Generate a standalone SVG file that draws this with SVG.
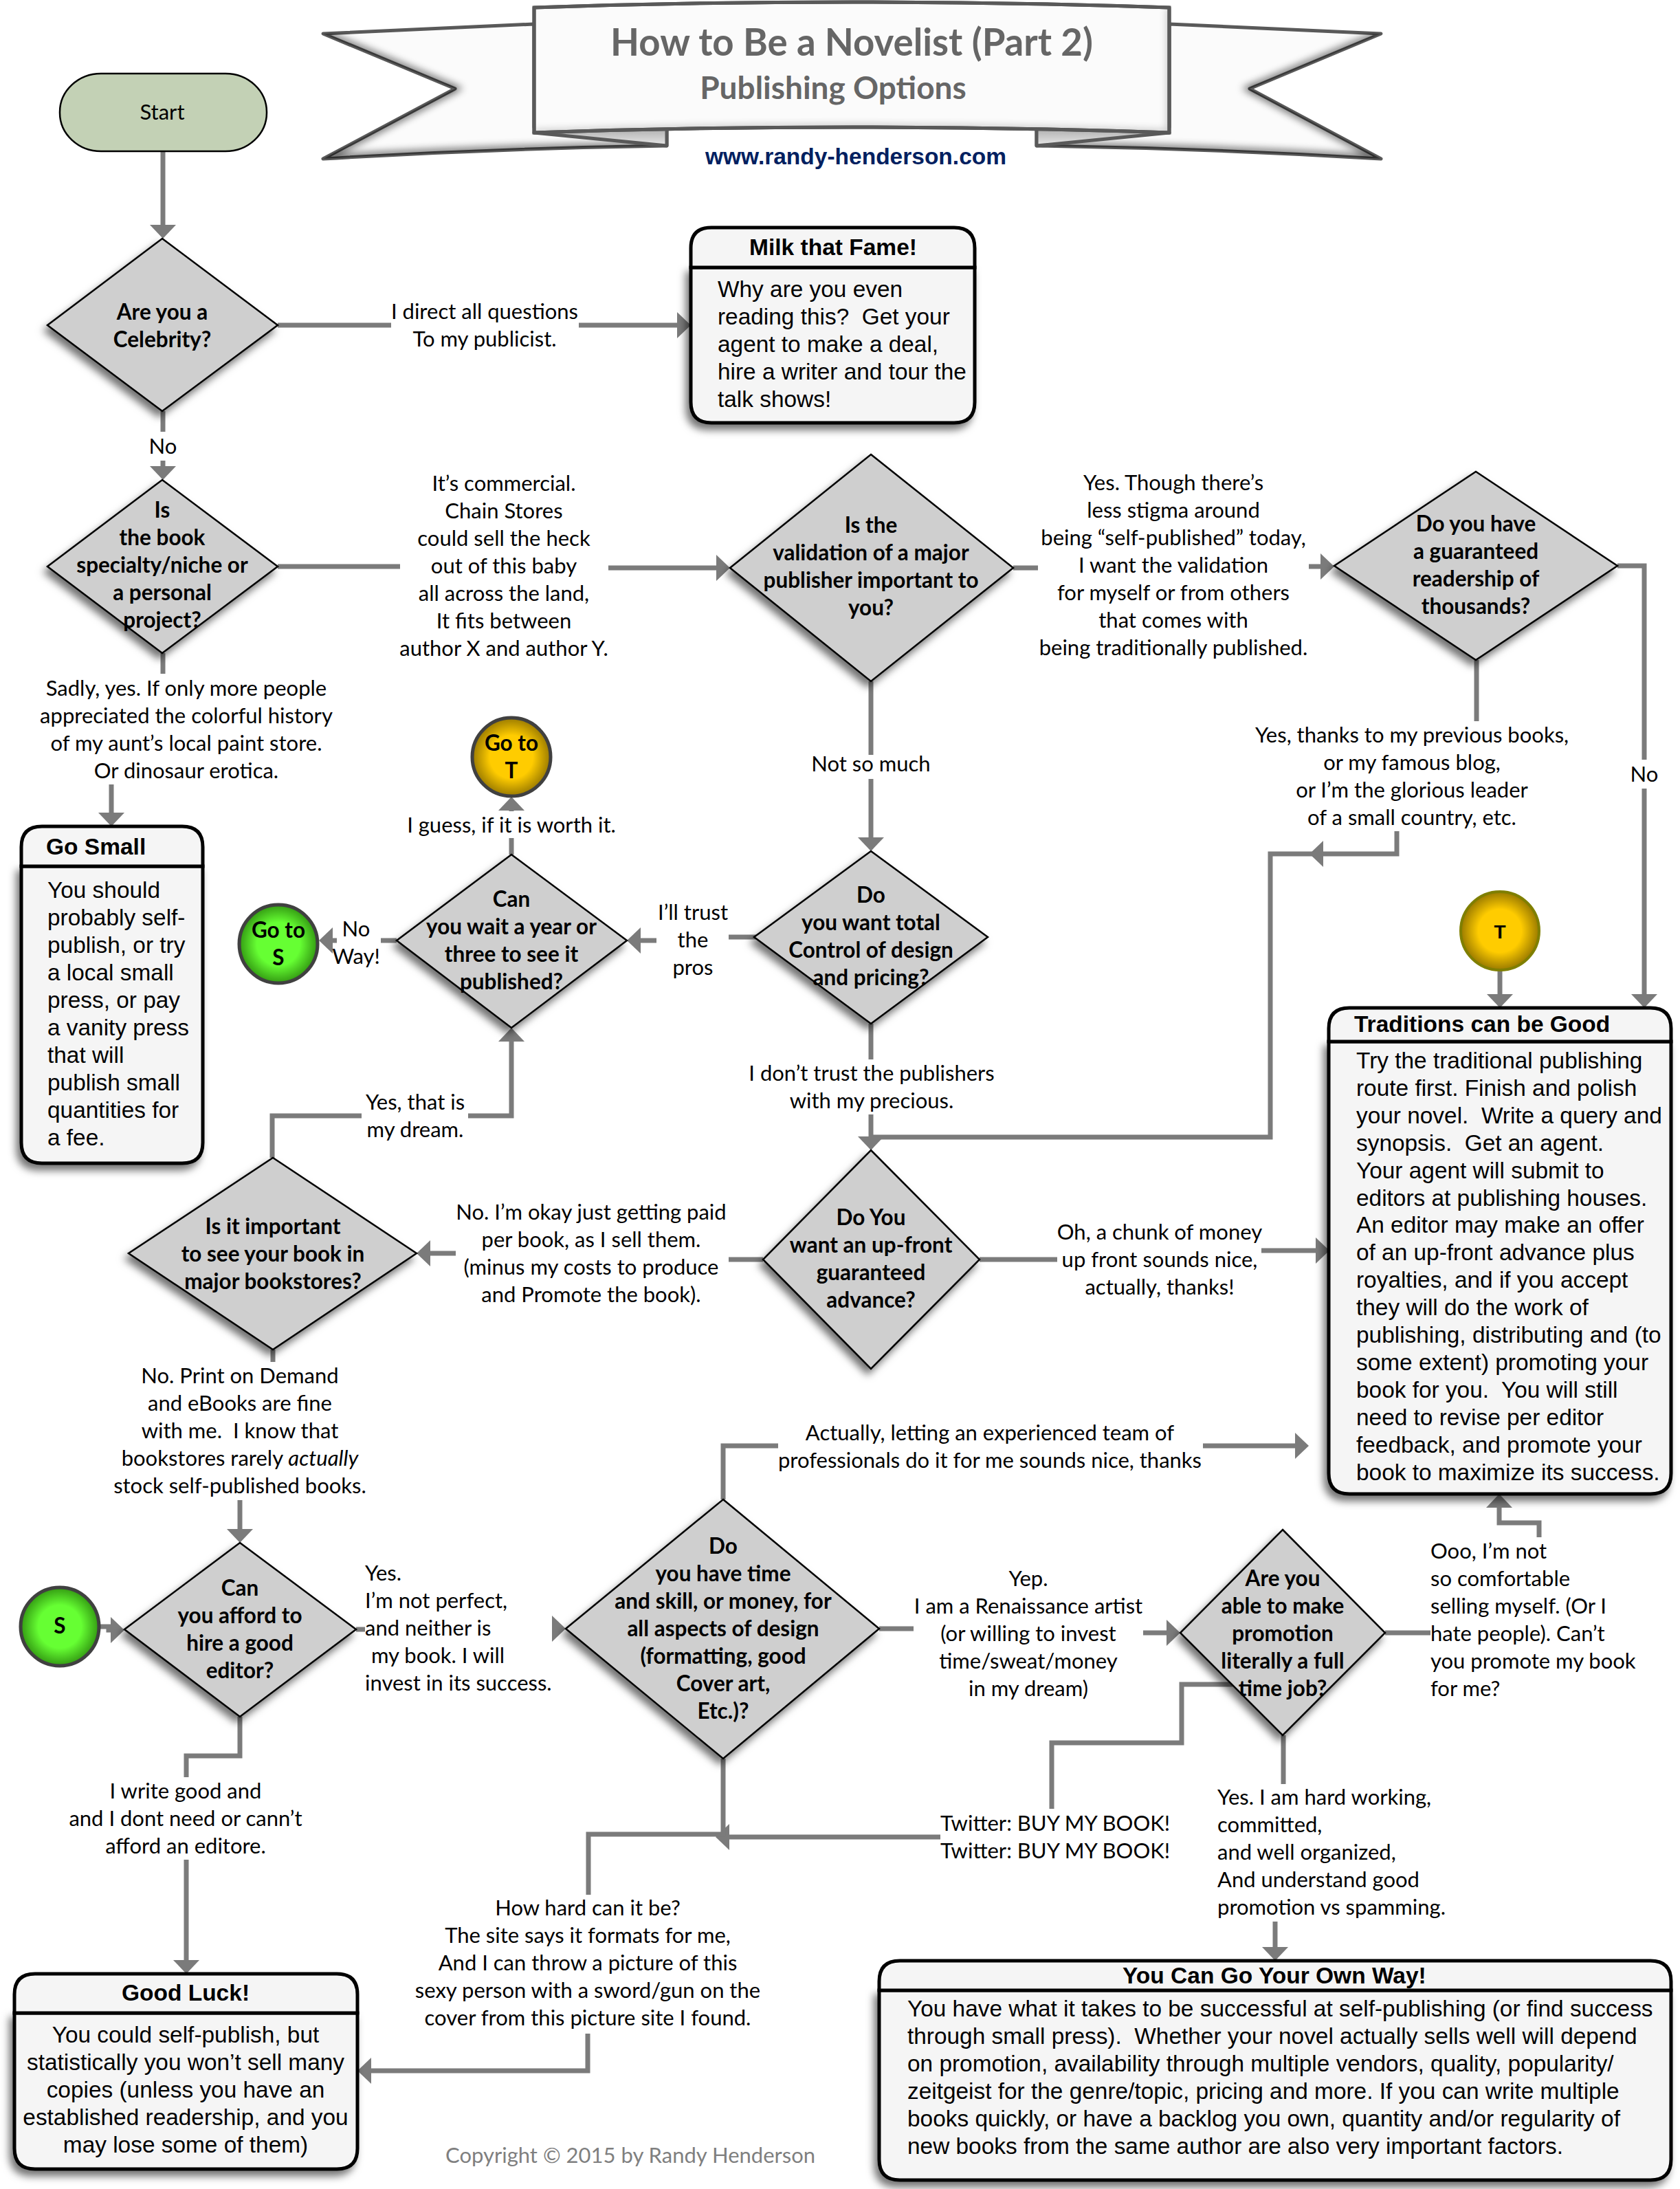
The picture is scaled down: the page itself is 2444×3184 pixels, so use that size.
<svg xmlns="http://www.w3.org/2000/svg" width="2444" height="3184" viewBox="0 0 2444 3184">
<style>
text{fill:#000;white-space:pre}
.l{font-family:"Lato","Liberation Sans",sans-serif;font-size:31px}
.d{font-family:"Lato","Liberation Sans",sans-serif;font-size:31.5px;font-weight:700;text-anchor:middle}
.c{text-anchor:middle}
.b{font-family:"Liberation Sans",Arial,sans-serif;font-size:33.4px}
.t{font-family:"Liberation Sans",Arial,sans-serif;font-size:33.5px;font-weight:700}
.dm{fill:#cfcfcf;stroke:#000;stroke-width:2.5;filter:url(#sh)}
.hd{fill:#f5f5f5;stroke:#000;stroke-width:5}
.bd{fill:#f5f5f5;stroke:#000;stroke-width:5;filter:url(#sh)}
.cn{fill:none;stroke:#7b7b7b;stroke-width:7;stroke-linejoin:miter}
.ar{marker-end:url(#ah)}
.rb{fill:#fbfbfb;stroke:#595959;stroke-width:5;stroke-linejoin:round}
</style>
<defs>
<filter id="sh" x="-20%" y="-20%" width="140%" height="140%"><feDropShadow dx="-5" dy="8" stdDeviation="6" flood-color="#000" flood-opacity=".55"/></filter>
<filter id="bl" x="-10%" y="-10%" width="120%" height="120%"><feGaussianBlur stdDeviation="6"/></filter>
<marker id="ah" markerUnits="userSpaceOnUse" viewBox="0 0 20 38" markerWidth="20" markerHeight="38" refX="10" refY="19" orient="auto"><path d="M0,0L20,19L0,38Z" fill="#7b7b7b"/></marker>
<radialGradient id="go"><stop offset="0" stop-color="#ffcc00"/><stop offset=".55" stop-color="#ffcc00"/><stop offset="1" stop-color="#9a7a00"/></radialGradient>
<radialGradient id="gr"><stop offset="0" stop-color="#66ff33"/><stop offset=".55" stop-color="#66ff33"/><stop offset="1" stop-color="#339a12"/></radialGradient>
<linearGradient id="fd" x1="0" y1="0" x2="0" y2="1"><stop offset="0" stop-color="#aaa"/><stop offset="1" stop-color="#e8e8e8"/></linearGradient>
<clipPath id="tl"><path d="M777,35L470,49L662,129L470,231Q720,216 970,212V185H777Z"/></clipPath>
<clipPath id="tr"><path d="M1701,35L2009,49L1818,129L2009,231Q1760,216 1508,212V185H1701Z"/></clipPath>
<clipPath id="cp"><path d="M777,11Q1240,-5 1701,11V193Q1240,177 777,193Z"/></clipPath>
</defs>
<rect width="2444" height="3184" fill="#fff"/>

<g id="banner">
<path class="rb" d="M777,35L470,49L662,129L470,231Q720,216 970,212V185H777Z"/>
<path d="M470,49L662,129L470,231Q720,216 970,212" fill="none" stroke="#000" stroke-width="10" opacity=".6" filter="url(#bl)" clip-path="url(#tl)"/>
<path class="rb" d="M1701,35L2009,49L1818,129L2009,231Q1760,216 1508,212V185H1701Z"/>
<path d="M2009,49L1818,129L2009,231Q1760,216 1508,212" fill="none" stroke="#000" stroke-width="10" opacity=".6" filter="url(#bl)" clip-path="url(#tr)"/>
<path d="M777,193L970,185V212Z" fill="url(#fd)" stroke="#595959" stroke-width="5" stroke-linejoin="round"/>
<path d="M1701,193L1508,185V212Z" fill="url(#fd)" stroke="#595959" stroke-width="5" stroke-linejoin="round"/>
<path class="rb" d="M777,11Q1240,-5 1701,11V193Q1240,177 777,193Z"/>
<path d="M1701,11V193Q1240,177 777,193" fill="none" stroke="#000" stroke-width="6" opacity=".3" filter="url(#bl)" clip-path="url(#cp)"/>
<path d="M777,11Q1240,-5 1701,11V193Q1240,177 777,193Z" fill="none" stroke="#595959" stroke-width="5"/>
<text x="1239" y="81" class="d" style="font-size:54.6px;fill:#666">How to Be a Novelist (Part 2)</text>
<text x="1212" y="144" class="d" style="font-size:46px;fill:#666">Publishing Options</text>
<text x="1245" y="239" class="t c" style="font-size:33.5px;fill:#002060">www.randy-henderson.com</text>
</g>

<g id="connectors">
<path class="cn ar" d="M237,220V337"/>
<path class="cn" d="M404,473H569"/><path class="cn ar" d="M842,473H995"/>
<path class="cn" d="M237,598V628"/><path class="cn ar" d="M237,670V688"/>
<path class="cn" d="M404,824H582"/><path class="cn ar" d="M885,826H1052"/>
<path class="cn" d="M237,950V980"/>
<path class="cn ar" d="M162,1141V1192"/>
<path class="cn" d="M1474,826H1510"/><path class="cn ar" d="M1904,824H1931"/>
<path class="cn" d="M1267,991V1098"/><path class="cn ar" d="M1267,1133V1228"/>
<path class="cn" d="M2148,960V1049"/>
<path class="cn ar" d="M2032,1209V1242H1915"/>
<path class="cn" d="M1915,1242H1848V1654H1267"/>
<path class="cn" d="M2353,823H2392V1105"/><path class="cn ar" d="M2392,1147V1456"/>
<path class="cn ar" d="M2182,1410V1456"/>
<path class="cn" d="M1101,1363H1060"/><path class="cn ar" d="M955,1368H922"/>
<path class="cn" d="M577,1368H554"/><path class="cn ar" d="M490,1368H474"/>
<path class="cn" d="M744,1243V1219"/><path class="cn ar" d="M744,1180V1169"/>
<path class="cn" d="M396,1684V1623H526"/><path class="cn ar" d="M681,1623H744V1505"/>
<path class="cn" d="M1267,1489V1541"/><path class="cn ar" d="M1267,1621V1663"/>
<path class="cn" d="M1110,1832H1060"/><path class="cn ar" d="M663,1823H616"/>
<path class="cn" d="M1425,1832H1538"/><path class="cn ar" d="M1835,1819H1924"/>
<path class="cn" d="M397,1963V1981"/>
<path class="cn ar" d="M349,2182V2234"/>
<path class="cn ar" d="M144,2366H158V2371H171"/>
<path class="cn" d="M518,2370H531"/><path class="cn ar" d="M803,2369H813"/>
<path class="cn" d="M349,2497V2554H271V2585"/><path class="cn ar" d="M271,2705V2861"/>
<path class="cn" d="M1279,2369H1329"/><path class="cn ar" d="M1663,2375H1707"/>
<path class="cn" d="M2015,2375H2081"/>
<path class="cn ar" d="M2239,2236V2215H2181V2183"/>
<path class="cn" d="M1793,2450H1719V2535H1530V2631"/>
<path class="cn ar" d="M1368,2672H1051"/>
<path class="cn" d="M1867,2524V2595"/>
<path class="cn ar" d="M1855,2795V2842"/>
<path class="cn" d="M1132,2103H1052V2181"/><path class="cn ar" d="M1750,2103H1894"/>
<path class="cn" d="M1052,2558V2668H856V2756"/>
<path class="cn ar" d="M855,2958V3012H530"/>
</g>

<g id="start"><rect x="87" y="107" width="301" height="113" rx="60" ry="56" fill="#c3d1b5" stroke="#000" stroke-width="2.5"/><text x="236" y="174" class="l c">Start</text></g>

<g id="q-celebrity"><path class="dm" d="M236,347L404,473L236,598L69,473Z"/><text class="d" y="465"><tspan x="236">Are you a</tspan><tspan x="236" dy="40">Celebrity?</tspan></text></g>
<g id="q-specialty"><path class="dm" d="M236,698L404,824L236,950L69,824Z"/><text class="d" y="753"><tspan x="236">Is</tspan><tspan x="236" dy="40">the book</tspan><tspan x="236" dy="40">specialty/niche or</tspan><tspan x="236" dy="40">a personal</tspan><tspan x="236" dy="40">project?</tspan></text></g>
<g id="q-validation"><path class="dm" d="M1267,661L1474,826L1267,991L1062,826Z"/><text class="d" y="775"><tspan x="1267">Is the</tspan><tspan x="1267" dy="40">validation of a major</tspan><tspan x="1267" dy="40">publisher important to</tspan><tspan x="1267" dy="40">you?</tspan></text></g>
<g id="q-readership"><path class="dm" d="M2147,686L2353,823L2147,960L1941,823Z"/><text class="d" y="773"><tspan x="2147">Do you have</tspan><tspan x="2147" dy="40">a guaranteed</tspan><tspan x="2147" dy="40">readership of</tspan><tspan x="2147" dy="40">thousands?</tspan></text></g>
<g id="q-control"><path class="dm" d="M1267,1238L1437,1363L1267,1489L1097,1363Z"/><text class="d" y="1313"><tspan x="1267">Do</tspan><tspan x="1267" dy="40">you want total</tspan><tspan x="1267" dy="40">Control of design</tspan><tspan x="1267" dy="40">and pricing?</tspan></text></g>
<g id="q-wait"><path class="dm" d="M744,1243L912,1368L744,1495L577,1368Z"/><text class="d" y="1319"><tspan x="744">Can</tspan><tspan x="744" dy="40">you wait a year or</tspan><tspan x="744" dy="40">three to see it</tspan><tspan x="744" dy="40">published?</tspan></text></g>
<g id="q-bookstores"><path class="dm" d="M397,1684L606,1823L397,1963L187,1823Z"/><text class="d" y="1795"><tspan x="397">Is it important</tspan><tspan x="397" dy="40">to see your book in</tspan><tspan x="397" dy="40">major bookstores?</tspan></text></g>
<g id="q-advance"><path class="dm" d="M1267,1673L1425,1832L1267,1991L1110,1832Z"/><text class="d" y="1782"><tspan x="1267">Do You</tspan><tspan x="1267" dy="40">want an up-front</tspan><tspan x="1267" dy="40">guaranteed</tspan><tspan x="1267" dy="40">advance?</tspan></text></g>
<g id="q-editor"><path class="dm" d="M349,2244L518,2370L349,2497L181,2370Z"/><text class="d" y="2321"><tspan x="349">Can</tspan><tspan x="349" dy="40">you afford to</tspan><tspan x="349" dy="40">hire a good</tspan><tspan x="349" dy="40">editor?</tspan></text></g>
<g id="q-design"><path class="dm" d="M1052,2181L1279,2369L1052,2558L823,2369Z"/><text class="d" y="2260"><tspan x="1052">Do</tspan><tspan x="1052" dy="40">you have time</tspan><tspan x="1052" dy="40">and skill, or money, for</tspan><tspan x="1052" dy="40">all aspects of design</tspan><tspan x="1052" dy="40">(formatting, good</tspan><tspan x="1052" dy="40">Cover art,</tspan><tspan x="1052" dy="40">Etc.)?</tspan></text></g>
<g id="q-promotion"><path class="dm" d="M1866,2225L2015,2375L1866,2524L1717,2375Z"/><text class="d" y="2307"><tspan x="1866">Are you</tspan><tspan x="1866" dy="40">able to make</tspan><tspan x="1866" dy="40">promotion</tspan><tspan x="1866" dy="40">literally a full</tspan><tspan x="1866" dy="40">time job?</tspan></text></g>

<g id="goto-t"><circle cx="744" cy="1101" r="57" fill="url(#go)" stroke="#404040" stroke-width="5"/><text class="d" y="1092"><tspan x="744">Go to</tspan><tspan x="744" dy="40">T</tspan></text></g>
<g id="goto-s"><circle cx="405" cy="1373" r="57" fill="url(#gr)" stroke="#404040" stroke-width="5"/><text class="d" y="1364"><tspan x="405">Go to</tspan><tspan x="405" dy="40">S</tspan></text></g>
<g id="t"><circle cx="2182" cy="1354" r="57" fill="url(#go)" stroke="#7f7f00" stroke-width="4"/><text class="t c" x="2182" y="1365" style="font-size:28px">T</text></g>
<g id="s"><circle cx="87" cy="2366" r="57" fill="url(#gr)" stroke="#404040" stroke-width="5"/><text class="d" x="87" y="2376">S</text></g>

<g id="milk">
<path class="bd" d="M1005,389H1418V585Q1418,615 1388,615H1035Q1005,615 1005,585Z"/>
<path class="hd" d="M1005,389V361Q1005,331 1035,331H1388Q1418,331 1418,361V389Z"/>
<text class="t c" x="1212" y="371">Milk that Fame!</text>
<text class="b" y="432"><tspan x="1044">Why are you even</tspan><tspan x="1044" dy="40">reading this?  Get your</tspan><tspan x="1044" dy="40">agent to make a deal,</tspan><tspan x="1044" dy="40">hire a writer and tour the</tspan><tspan x="1044" dy="40">talk shows!</tspan></text>
</g>
<g id="go-small">
<path class="bd" d="M31,1260H295V1662Q295,1692 265,1692H61Q31,1692 31,1662Z"/>
<path class="hd" d="M31,1260V1232Q31,1202 61,1202H265Q295,1202 295,1232V1260Z"/>
<text class="t" x="67" y="1243">Go Small</text>
<text class="b" y="1306"><tspan x="69">You should</tspan><tspan x="69" dy="40">probably self-</tspan><tspan x="69" dy="40">publish, or try</tspan><tspan x="69" dy="40">a local small</tspan><tspan x="69" dy="40">press, or pay</tspan><tspan x="69" dy="40">a vanity press</tspan><tspan x="69" dy="40">that will</tspan><tspan x="69" dy="40">publish small</tspan><tspan x="69" dy="40">quantities for</tspan><tspan x="69" dy="40">a fee.</tspan></text>
</g>
<g id="traditions">
<path class="bd" d="M1933,1515H2431V2143Q2431,2173 2401,2173H1963Q1933,2173 1933,2143Z"/>
<path class="hd" d="M1933,1515V1496Q1933,1466 1963,1466H2401Q2431,1466 2431,1496V1515Z"/>
<text class="t" x="1970" y="1501">Traditions can be Good</text>
<text class="b" y="1554"><tspan x="1973">Try the traditional publishing</tspan><tspan x="1973" dy="39.9">route first. Finish and polish</tspan><tspan x="1973" dy="39.9">your novel.  Write a query and</tspan><tspan x="1973" dy="39.9">synopsis.  Get an agent.</tspan><tspan x="1973" dy="39.9">Your agent will submit to</tspan><tspan x="1973" dy="39.9">editors at publishing houses.</tspan><tspan x="1973" dy="39.9">An editor may make an offer</tspan><tspan x="1973" dy="39.9">of an up-front advance plus</tspan><tspan x="1973" dy="39.9">royalties, and if you accept</tspan><tspan x="1973" dy="39.9">they will do the work of</tspan><tspan x="1973" dy="39.9">publishing, distributing and (to</tspan><tspan x="1973" dy="39.9">some extent) promoting your</tspan><tspan x="1973" dy="39.9">book for you.  You will still</tspan><tspan x="1973" dy="39.9">need to revise per editor</tspan><tspan x="1973" dy="39.9">feedback, and promote your</tspan><tspan x="1973" dy="39.9">book to maximize its success.</tspan></text>
</g>
<g id="good-luck">
<path class="bd" d="M21,2928H520V3125Q520,3155 490,3155H51Q21,3155 21,3125Z"/>
<path class="hd" d="M21,2928V2901Q21,2871 51,2871H490Q520,2871 520,2901V2928Z"/>
<text class="t c" x="270" y="2910">Good Luck!</text>
<text class="b c" y="2971"><tspan x="270">You could self-publish, but</tspan><tspan x="270" dy="40">statistically you won’t sell many</tspan><tspan x="270" dy="40">copies (unless you have an</tspan><tspan x="270" dy="40">established readership, and you</tspan><tspan x="270" dy="40">may lose some of them)</tspan></text>
</g>
<g id="own-way">
<path class="bd" d="M1279,2895H2431V3141Q2431,3171 2401,3171H1309Q1279,3171 1279,3141Z"/>
<path class="hd" d="M1279,2895V2882Q1279,2852 1309,2852H2401Q2431,2852 2431,2882V2895Z"/>
<text class="t" x="1633" y="2885">You Can Go Your Own Way!</text>
<text class="b" y="2933"><tspan x="1320">You have what it takes to be successful at self-publishing (or find success</tspan><tspan x="1320" dy="40">through small press).  Whether your novel actually sells well will depend</tspan><tspan x="1320" dy="40">on promotion, availability through multiple vendors, quality, popularity/</tspan><tspan x="1320" dy="40">zeitgeist for the genre/topic, pricing and more. If you can write multiple</tspan><tspan x="1320" dy="40">books quickly, or have a backlog you own, quantity and/or regularity of</tspan><tspan x="1320" dy="40">new books from the same author are also very important factors.</tspan></text>
</g>

<g id="labels">
<text class="l c" y="464"><tspan x="705">I direct all questions</tspan><tspan x="705" dy="40">To my publicist.</tspan></text>
<text class="l c" x="237" y="660">No</text>
<text class="l c" y="714"><tspan x="733">It’s commercial.</tspan><tspan x="733" dy="40">Chain Stores</tspan><tspan x="733" dy="40">could sell the heck</tspan><tspan x="733" dy="40">out of this baby</tspan><tspan x="733" dy="40">all across the land,</tspan><tspan x="733" dy="40">It fits between</tspan><tspan x="733" dy="40">author X and author Y.</tspan></text>
<text class="l c" y="713"><tspan x="1707">Yes. Though there’s</tspan><tspan x="1707" dy="40">less stigma around</tspan><tspan x="1707" dy="40">being “self-published” today,</tspan><tspan x="1707" dy="40">I want the validation</tspan><tspan x="1707" dy="40">for myself or from others</tspan><tspan x="1707" dy="40">that comes with</tspan><tspan x="1707" dy="40">being traditionally published.</tspan></text>
<text class="l c" y="1012"><tspan x="271">Sadly, yes. If only more people</tspan><tspan x="271" dy="40">appreciated the colorful history</tspan><tspan x="271" dy="40">of my aunt’s local paint store.</tspan><tspan x="271" dy="40">Or dinosaur erotica.</tspan></text>
<text class="l c" x="1267" y="1122">Not so much</text>
<text class="l c" y="1080"><tspan x="2054">Yes, thanks to my previous books,</tspan><tspan x="2054" dy="40">or my famous blog,</tspan><tspan x="2054" dy="40">or I’m the glorious leader</tspan><tspan x="2054" dy="40">of a small country, etc.</tspan></text>
<text class="l c" x="2392" y="1137">No</text>
<text class="l c" x="744" y="1211">I guess, if it is worth it.</text>
<text class="l c" y="1362"><tspan x="518">No</tspan><tspan x="518" dy="40">Way!</tspan></text>
<text class="l c" y="1338"><tspan x="1008">I’ll trust</tspan><tspan x="1008" dy="40">the</tspan><tspan x="1008" dy="40">pros</tspan></text>
<text class="l c" y="1572"><tspan x="1268">I don’t trust the publishers</tspan><tspan x="1268" dy="40">with my precious.</tspan></text>
<text class="l c" y="1614"><tspan x="604">Yes, that is</tspan><tspan x="604" dy="40">my dream.</tspan></text>
<text class="l c" y="1774"><tspan x="860">No. I’m okay just getting paid</tspan><tspan x="860" dy="40">per book, as I sell them.</tspan><tspan x="860" dy="40">(minus my costs to produce</tspan><tspan x="860" dy="40">and Promote the book).</tspan></text>
<text class="l c" y="1803"><tspan x="1687">Oh, a chunk of money</tspan><tspan x="1687" dy="40">up front sounds nice,</tspan><tspan x="1687" dy="40">actually, thanks!</tspan></text>
<text class="l c" y="2012"><tspan x="349">No. Print on Demand</tspan><tspan x="349" dy="40">and eBooks are fine</tspan><tspan x="349" dy="40">with me.  I know that</tspan><tspan x="349" dy="40">bookstores rarely <tspan font-style="italic">actually</tspan></tspan><tspan x="349" dy="40">stock self-published books.</tspan></text>
<text class="l c" y="2095"><tspan x="1440">Actually, letting an experienced team of</tspan><tspan x="1440" dy="40">professionals do it for me sounds nice, thanks</tspan></text>
<text class="l" y="2299"><tspan x="531">Yes.</tspan><tspan x="531" dy="40">I’m not perfect,</tspan><tspan x="531" dy="40">and neither is</tspan><tspan x="540" dy="40">my book. I will</tspan><tspan x="531" dy="40">invest in its success.</tspan></text>
<text class="l c" y="2307"><tspan x="1496">Yep.</tspan><tspan x="1496" dy="40">I am a Renaissance artist</tspan><tspan x="1496" dy="40">(or willing to invest</tspan><tspan x="1496" dy="40">time/sweat/money</tspan><tspan x="1496" dy="40">in my dream)</tspan></text>
<text class="l" y="2267"><tspan x="2081">Ooo, I’m not</tspan><tspan x="2081" dy="40">so comfortable</tspan><tspan x="2081" dy="40">selling myself. (Or I</tspan><tspan x="2081" dy="40">hate people). Can’t</tspan><tspan x="2081" dy="40">you promote my book</tspan><tspan x="2081" dy="40">for me?</tspan></text>
<text class="l c" y="2616"><tspan x="270">I write good and</tspan><tspan x="270" dy="40">and I dont need or cann’t</tspan><tspan x="270" dy="40">afford an editore.</tspan></text>
<text class="l c" y="2786"><tspan x="855">How hard can it be?</tspan><tspan x="855" dy="40">The site says it formats for me,</tspan><tspan x="855" dy="40">And I can throw a picture of this</tspan><tspan x="855" dy="40">sexy person with a sword/gun on the</tspan><tspan x="855" dy="40">cover from this picture site I found.</tspan></text>
<text class="l" y="2663"><tspan x="1368">Twitter: BUY MY BOOK!</tspan><tspan x="1368" dy="40">Twitter: BUY MY BOOK!</tspan></text>
<text class="l" y="2625"><tspan x="1771">Yes. I am hard working,</tspan><tspan x="1771" dy="40">committed,</tspan><tspan x="1771" dy="40">and well organized,</tspan><tspan x="1771" dy="40">And understand good</tspan><tspan x="1771" dy="40">promotion vs spamming.</tspan></text>
<text class="l" x="648" y="3146" style="fill:#7f7f7f">Copyright © 2015 by Randy Henderson</text>
</g>
</svg>
